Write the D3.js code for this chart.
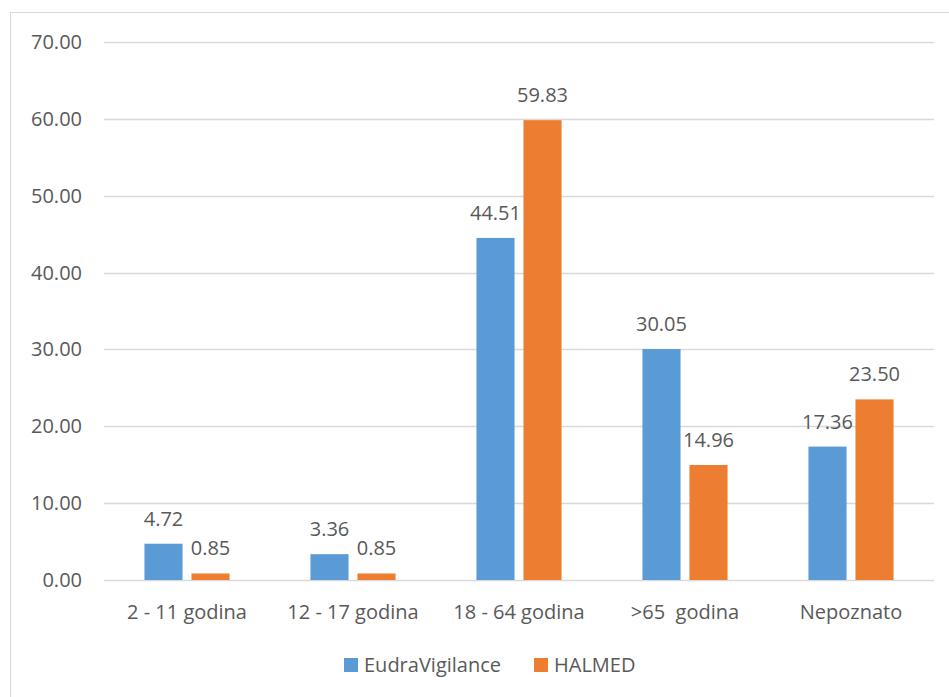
<!DOCTYPE html>
<html>
<head>
<meta charset="utf-8">
<script src="https://cdn.jsdelivr.net/npm/d3@7"></script>
<style>
  body { margin: 0; background: #fff; }
  svg text { font-family: "Open Sans", "Noto Sans", sans-serif; fill: #595959; }
</style>
</head>
<body>
<div id="chart"></div>
<script>
var categories = ["2 - 11 godina", "12 - 17 godina", "18 - 64 godina", ">65  godina", "Nepoznato"];
var seriesNames = ["EudraVigilance", "HALMED"];
var eudraValues = [4.72, 3.36, 44.51, 30.05, 17.36];
var halmedValues = [0.85, 0.85, 59.83, 14.96, 23.50];
var yTicks = [0, 10, 20, 30, 40, 50, 60, 70];
var colors = ["#5b9bd5", "#ed7d31"];

var width = 949, height = 697;
var margin = { top: 42, right: 15, bottom: 117, left: 104 };
var fontSize = "20px";

var svg = d3.select("#chart").append("svg")
    .attr("width", width)
    .attr("height", height);

// outer chart border
svg.append("rect")
    .attr("x", 10.5).attr("y", 12.5)
    .attr("width", 960).attr("height", 720)
    .attr("fill", "none")
    .attr("stroke", "#d9d9d9");

var x0 = d3.scaleBand()
    .domain(categories)
    .range([margin.left, width - margin.right])
    .paddingInner(0)
    .paddingOuter(0);

var x1 = d3.scaleBand()
    .domain(seriesNames)
    .range([0, x0.bandwidth()])
    .paddingInner(0.19)
    .paddingOuter(0.86);

var y = d3.scaleLinear()
    .domain([0, 70])
    .range([height - margin.bottom, margin.top]);

// gridlines
svg.append("g")
    .selectAll("line").data(yTicks)
    .enter().append("line")
    .attr("x1", margin.left)
    .attr("x2", width - margin.right)
    .attr("y1", function(d) { return Math.round(y(d)) + 0.5; })
    .attr("y2", function(d) { return Math.round(y(d)) + 0.5; })
    .attr("stroke", "#d9d9d9")
    .attr("stroke-width", 1.3);

// y axis labels
svg.append("g")
    .selectAll("text").data(yTicks)
    .enter().append("text")
    .attr("x", 82)
    .attr("y", function(d) { return y(d); })
    .attr("dy", "0.35em")
    .attr("text-anchor", "end")
    .style("font-size", fontSize)
    .text(function(d) { return d.toFixed(2); });

var rows = categories.map(function(c, i) {
    return { cat: c, values: [eudraValues[i], halmedValues[i]] };
});

var groups = svg.append("g")
    .selectAll("g").data(rows)
    .enter().append("g")
    .attr("transform", function(d) { return "translate(" + x0(d.cat) + ",0)"; });

var bars = groups.selectAll("g.bar")
    .data(function(d) {
        return d.values.map(function(v, j) { return { name: seriesNames[j], value: v, j: j }; });
    })
    .enter().append("g")
    .attr("class", "bar");

bars.append("rect")
    .attr("x", function(d) { return x1(d.name); })
    .attr("width", x1.bandwidth())
    .attr("y", function(d) { return y(d.value); })
    .attr("height", function(d) { return y(0) - y(d.value); })
    .attr("fill", function(d) { return colors[d.j]; });

bars.append("text")
    .attr("x", function(d) { return x1(d.name) + x1.bandwidth() / 2; })
    .attr("y", function(d) { return y(d.value) - 18; })
    .attr("text-anchor", "middle")
    .style("font-size", fontSize)
    .text(function(d) { return d.value.toFixed(2); });

// category labels
svg.append("g")
    .selectAll("text").data(categories)
    .enter().append("text")
    .attr("x", function(d) { return x0(d) + x0.bandwidth() / 2; })
    .attr("y", 619)
    .attr("text-anchor", "middle")
    .style("font-size", fontSize)
    .style("white-space", "pre")
    .attr("xml:space", "preserve")
    .text(function(d) { return d; });

// legend
var legendX = [344, 534];
var legend = svg.append("g")
    .selectAll("g").data(seriesNames)
    .enter().append("g")
    .attr("transform", function(d, i) { return "translate(" + legendX[i] + ",658)"; });

legend.append("rect")
    .attr("width", 14).attr("height", 14)
    .attr("fill", function(d, i) { return colors[i]; });

legend.append("text")
    .attr("x", 20)
    .attr("y", 14)
    .style("font-size", fontSize)
    .text(function(d) { return d; });
</script>
</body>
</html>
